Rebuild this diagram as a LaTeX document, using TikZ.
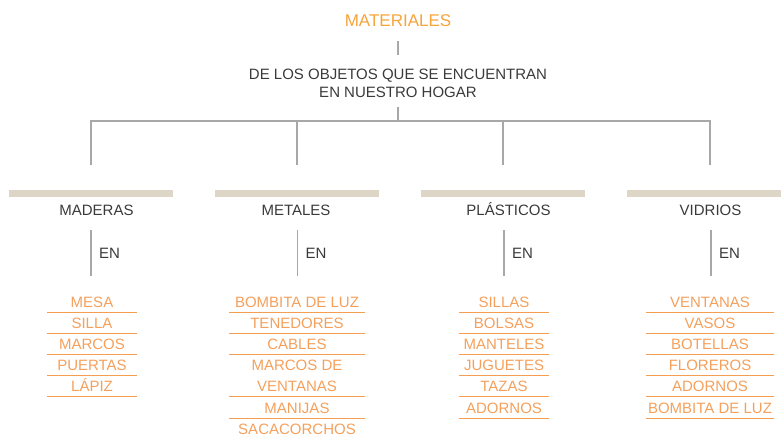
\documentclass[tikz,border=0pt]{standalone}
\usepackage{fontspec}
\setmainfont{Liberation Sans}
\definecolor{org}{HTML}{F4A05C}
\definecolor{orgL}{HTML}{F59D50}
\definecolor{orgT}{HTML}{F6A43C}
\definecolor{txt}{HTML}{3A3A3A}
\definecolor{gln}{HTML}{A8A8A8}
\definecolor{beige}{HTML}{DDD5C6}
\begin{document}
\begin{tikzpicture}[x=1pt,y=-1pt,
  lbl/.style={inner sep=0pt, anchor=base, font=\fontsize{15}{18}\selectfont, text=txt},
  item/.style={inner sep=0pt, anchor=base, font=\fontsize{15}{18}\selectfont, text=org},
  conn/.style={draw=gln, line width=1.3pt},
  uline/.style={draw=orgL, line width=1pt},
  bar/.style={fill=beige, draw=none}]
\useasboundingbox (0,0) rectangle (781,436);

% title and subtitle
\node[item, font=\fontsize{17}{20}\selectfont, text=orgT] (title) at (398,27) {MATERIALES};
\node[lbl, align=center] (sub) at (398,97.5) {DE LOS OBJETOS QUE SE ENCUENTRAN\\EN NUESTRO HOGAR};
\coordinate (t1) at (398,41);
\coordinate (t2) at (398,55);
\draw[conn] (t1) -- (t2);

% bus
\coordinate (s1) at (398,107);
\coordinate (bus) at (398,121);
\draw[conn] (s1) -- (bus);
\foreach \x [count=\i] in {91,297,503,710}{
  \coordinate (b\i) at (\x,121);
  \coordinate (e\i) at (\x,165);
}
\draw[conn] (e1) -- (b1) -- (b4) -- (e4);
\draw[conn] (b2) -- (e2);
\draw[conn] (b3) -- (e3);

% beige bars
\fill[bar] (9,190) rectangle (173,196.5);
\fill[bar] (215,190) rectangle (379,196.5);
\fill[bar] (421,190) rectangle (585,196.5);
\fill[bar] (627,190) rectangle (781,196.5);

% categories
\node[lbl] (c1) at (96.5,215.5) {MADERAS};
\node[lbl] (c2) at (296,215.5) {METALES};
\node[lbl] (c3) at (508.5,215.5) {PLÁSTICOS};
\node[lbl] (c4) at (710.5,215.5) {VIDRIOS};

% EN connectors
\foreach \x/\ex [count=\i] in {91/99,297.5/305.5,504/512,711/719}{
  \coordinate (en\i a) at (\x,230);
  \coordinate (en\i b) at (\x,276);
  \draw[conn] (en\i a) -- (en\i b);
  \node[lbl, anchor=base west] (en\i) at (\ex,258.5) {EN};
}

% lists
\foreach \t [count=\i] in {MESA,SILLA,MARCOS,PUERTAS,LÁPIZ}{
  \node[item] (ma\i) at (92,{307.2+21.17*(\i-1)}) {\t};
  \draw[uline] (47,{312.2+21.17*(\i-1)}) -- (137,{312.2+21.17*(\i-1)});
}
\foreach \t/\u [count=\i] in {BOMBITA DE LUZ/1,TENEDORES/1,CABLES/1,MARCOS DE/0,VENTANAS/1,MANIJAS/1,SACACORCHOS/0}{
  \node[item] (me\i) at (297,{307.2+21.17*(\i-1)}) {\t};
  \ifnum\u=1
    \draw[uline] (229,{312.2+21.17*(\i-1)}) -- (365,{312.2+21.17*(\i-1)});
  \fi
}
\foreach \t [count=\i] in {SILLAS,BOLSAS,MANTELES,JUGUETES,TAZAS,ADORNOS}{
  \node[item] (pl\i) at (504,{307.2+21.17*(\i-1)}) {\t};
  \draw[uline] (459,{312.2+21.17*(\i-1)}) -- (549,{312.2+21.17*(\i-1)});
}
\foreach \t [count=\i] in {VENTANAS,VASOS,BOTELLAS,FLOREROS,ADORNOS,BOMBITA DE LUZ}{
  \node[item] (vi\i) at (710,{307.2+21.17*(\i-1)}) {\t};
  \draw[uline] (646,{312.2+21.17*(\i-1)}) -- (774,{312.2+21.17*(\i-1)});
}
\end{tikzpicture}
\end{document}
